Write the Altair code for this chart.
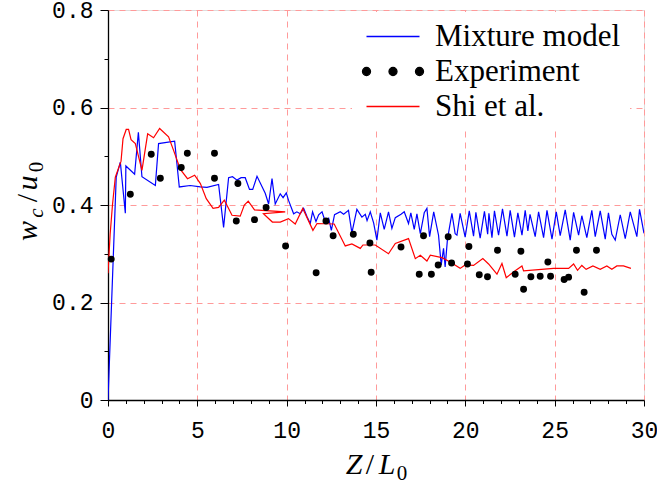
import altair as alt
import pandas as pd

# ---- data ----
mix_x = [0.0, 0.46, 0.69, 0.97, 1.0, 1.49, 1.7, 1.9, 2.65, 2.83, 3.73, 3.99, 4.6, 5.17, 5.54, 6.19,
         6.47, 6.75, 6.97, 7.22, 7.45, 7.68, 7.92, 8.1, 8.34, 8.8, 8.99, 9.18, 9.36, 9.64, 9.8, 9.98,
         10.1, 10.39, 10.57, 10.76, 10.95, 11.14, 11.32, 11.45, 11.64, 11.79, 11.98, 12.16, 12.35, 12.5,
         12.68, 13.0, 13.19, 13.46, 13.65, 13.93, 14.21, 14.4, 14.5, 14.68, 14.87, 15.05, 15.24, 15.46,
         15.7, 15.89, 16.08, 16.4, 16.58, 16.82, 16.95, 17.14, 17.29, 17.48, 17.7, 17.85, 18.0, 18.23,
         18.5, 18.65, 18.78, 18.87, 19.0, 19.25, 19.43,
         19.53, 19.71, 19.99, 20.22, 20.46, 20.59, 20.83, 21.07, 21.25, 21.32, 21.49, 21.63, 21.86,
         22.08, 22.33, 22.51, 22.75, 22.94, 23.17, 23.35, 23.5, 23.62, 23.91, 24.1, 24.38, 24.57,
         24.85, 25.09, 25.31, 25.59, 25.87, 26.06, 26.34, 26.52, 26.8, 27.08, 27.27, 27.55, 27.83,
         28.01, 28.2, 28.39, 28.67, 28.95, 29.23, 29.6, 29.75, 30.0]
mix_y = [0.0, 0.457, 0.488, 0.383, 0.48, 0.463, 0.549, 0.458, 0.44, 0.526, 0.531, 0.437, 0.44, 0.437,
         0.436, 0.442, 0.354, 0.456, 0.458, 0.451, 0.456, 0.456, 0.432, 0.432, 0.459, 0.424, 0.402,
         0.454, 0.402, 0.423, 0.415, 0.425, 0.41, 0.382, 0.386, 0.382, 0.393, 0.376, 0.362, 0.386,
         0.366, 0.38, 0.386, 0.366, 0.373, 0.348, 0.38, 0.386, 0.381, 0.389, 0.343, 0.391, 0.375,
         0.381, 0.368, 0.386, 0.363, 0.328, 0.384, 0.35, 0.386, 0.352, 0.374, 0.381, 0.386, 0.362,
         0.384, 0.35, 0.382, 0.341, 0.384, 0.393, 0.335, 0.386, 0.338, 0.277, 0.311, 0.273, 0.33,
         0.383, 0.341,
         0.338, 0.383, 0.334, 0.388, 0.336, 0.385, 0.332, 0.387, 0.34, 0.383, 0.333, 0.388, 0.338,
         0.392, 0.336, 0.389, 0.334, 0.384, 0.338, 0.389, 0.347, 0.381, 0.335, 0.386, 0.333, 0.389,
         0.33, 0.386, 0.337, 0.39, 0.328, 0.385, 0.338, 0.378, 0.333, 0.389, 0.335, 0.388, 0.33,
         0.384, 0.34, 0.328, 0.38, 0.331, 0.386, 0.335, 0.391, 0.342]

shi_x = [0.0, 0.12, 0.25, 0.41, 0.73, 0.84, 1.02, 1.15, 1.29, 1.53, 1.9, 2.22, 2.55, 2.89, 3.39, 3.67,
         4.05, 4.45, 4.85, 5.17, 5.5, 5.88, 6.19, 6.51, 6.75, 6.94, 7.4, 7.63, 7.85, 8.2, 9.92, 8.7,
         9.2, 9.64, 10.1, 10.48, 10.9, 11.47, 11.7, 12.66, 13.28, 13.65, 14.12, 14.27, 14.96, 15.7,
         16.08, 16.82, 17.2, 17.48, 17.85, 18.04, 18.69, 19.15, 19.71, 19.99, 20.46, 20.98, 21.3,
         21.77, 22.05, 22.29, 22.79, 23.17, 23.26, 24.94, 25.78, 26.06, 26.28, 26.52, 26.76, 27.14,
         27.55, 27.92, 28.2, 28.48, 28.85, 29.27]
shi_y = [0.26, 0.34, 0.40, 0.457, 0.49, 0.536, 0.555, 0.555, 0.534, 0.526, 0.471, 0.546, 0.538, 0.557,
         0.54, 0.512, 0.473, 0.454, 0.461, 0.444, 0.413, 0.393, 0.395, 0.41, 0.393, 0.379, 0.377,
         0.40, 0.408, 0.39, 0.386, 0.382, 0.365, 0.365, 0.372, 0.361, 0.393, 0.348, 0.362, 0.361,
         0.316, 0.32, 0.311, 0.318, 0.318, 0.30, 0.321, 0.331, 0.29, 0.297, 0.285, 0.297, 0.292,
         0.283, 0.27, 0.277, 0.276, 0.29, 0.279, 0.258, 0.28, 0.251, 0.265, 0.275, 0.265, 0.27, 0.27,
         0.279, 0.266, 0.276, 0.268, 0.275, 0.268, 0.275, 0.268, 0.275, 0.275, 0.27]

exp_x = [0.18, 1.25, 2.42, 2.93, 4.10, 4.44, 5.96, 5.96, 7.27, 7.18, 8.20, 8.85, 9.94, 11.65, 12.20,
         12.60, 13.73, 14.66, 14.73, 16.40, 17.42, 17.66, 18.10, 18.48, 19.04, 19.23, 20.12, 20.20,
         20.78, 21.24, 21.80, 22.79, 23.11, 23.26, 23.67, 24.19, 24.62, 24.77, 25.53, 25.78, 26.22,
         26.65, 27.34]
exp_y = [0.289, 0.422, 0.504, 0.455, 0.477, 0.506, 0.506, 0.455, 0.444, 0.367, 0.370, 0.395, 0.316,
         0.261, 0.367, 0.337, 0.340, 0.322, 0.262, 0.314, 0.258, 0.337, 0.258, 0.277, 0.335, 0.281,
         0.279, 0.315, 0.257, 0.253, 0.307, 0.258, 0.305, 0.227, 0.253, 0.254, 0.283, 0.254, 0.247,
         0.252, 0.307, 0.221, 0.307]

series_names = ["Mixture model", "Experiment", "Shi et al."]
series_colors = ["#0000ff", "#000000", "#ff0000"]
x_ticks = [0, 1, 2, 3, 4, 5, 6, 7, 8, 9, 10, 11, 12, 13, 14, 15, 16, 17, 18, 19, 20,
           21, 22, 23, 24, 25, 26, 27, 28, 29, 30]
y_ticks = [0, 0.1, 0.2, 0.3, 0.4, 0.5, 0.6, 0.7, 0.8]

lines_df = pd.concat([
    pd.DataFrame({"x": mix_x, "y": mix_y, "series": "Mixture model", "idx": range(len(mix_x))}),
    pd.DataFrame({"x": shi_x, "y": shi_y, "series": "Shi et al.", "idx": range(len(shi_x))}),
])
exp_df = pd.DataFrame({"x": exp_x, "y": exp_y, "series": "Experiment"})

# legend symbols: unit r = sqrt(size)/2 = 10 px; line spans -1 .. 4.3 (53 px)
def circ(cx, r):
    return (f"M{cx + r},0A{r},{r},0,1,0,{cx - r},0A{r},{r},0,1,0,{cx + r},0Z")

dots_path = circ(-1, 0.4) + circ(1.65, 0.4) + circ(4.3, 0.4)
line_path = "M-1,0L4.3,0"
is_exp = "datum.value === 'Experiment'"

legend = alt.Legend(
    title=None, orient="none", legendX=244, legendY=2, fillColor="white", padding=9,
    labelFont="Liberation Serif", labelFontSize=31, labelColor="black", labelOffset=43,
    rowPadding=3, symbolSize=400, symbolStrokeWidth=1.3, labelLimit=400, symbolOpacity=1,
    symbolType={"expr": f"{is_exp} ? '{dots_path}' : '{line_path}'"},
    symbolFillColor={"expr": f"{is_exp} ? '#000000' : 'transparent'"},
    symbolStrokeColor={"expr": f"{is_exp} ? 'transparent' : (datum.value === 'Shi et al.' ? '#ff0000' : '#0000ff')"},
)

color = alt.Color("series:N", scale=alt.Scale(domain=series_names, range=series_colors), legend=legend)

major_x = "datum.value % 5 === 0"
major_y = "round(datum.value * 10) % 2 === 0"

x_axis = alt.Axis(
    values=x_ticks, title=None, labelExpr=f"{major_x} ? datum.label : ''",
    labelFont="Liberation Mono", labelFontSize=23, labelColor="black", labelPadding=13,
    labelOverlap=False, labelFlush=False,
    tickColor="black", tickSize={"condition": {"test": major_x, "value": 6}, "value": 3.5},
    tickWidth=1, domainColor="black", domainWidth=1.3,
    grid=True, gridColor="#ff9a9a", gridDash=[6, 5], gridWidth=1,
    gridOpacity={"condition": {"test": major_x, "value": 1}, "value": 0},
)
y_axis = alt.Axis(
    values=y_ticks, title=None,
    labelExpr=f"{major_y} ? (datum.value === 0 ? '0' : format(datum.value, '.1f')) : ''",
    labelFont="Liberation Mono", labelFontSize=23, labelColor="black", labelPadding=7,
    labelOverlap=False, labelFlush=False,
    tickColor="black", tickSize={"condition": {"test": major_y, "value": 8}, "value": 4},
    tickWidth=1, domainColor="black", domainWidth=1.3,
    grid=True, gridColor="#ff9a9a", gridDash=[6, 5], gridWidth=1,
    gridOpacity={"condition": {"test": major_y, "value": 1}, "value": 0},
)

xs = alt.Scale(domain=[0, 30], nice=False, zero=False)
ys = alt.Scale(domain=[0, 0.8], nice=False, zero=False)

lines = alt.Chart(lines_df).mark_line(strokeWidth=1.2, clip=True).encode(
    x=alt.X("x:Q", scale=xs, axis=x_axis),
    y=alt.Y("y:Q", scale=ys, axis=y_axis),
    color=color,
    detail="series:N",
    order="idx:Q",
)
points = alt.Chart(exp_df).mark_circle(size=48, opacity=1).encode(
    x=alt.X("x:Q", scale=xs, axis=x_axis),
    y=alt.Y("y:Q", scale=ys, axis=y_axis),
    color=color,
)

one = pd.DataFrame({"k": [0]})


def piece(txt, px, py, size, angle=0, italic=True, align="center"):
    props = dict(font="Liberation Serif", fontSize=size, color="black", align=align,
                 baseline="alphabetic")
    if italic:
        props["fontStyle"] = "italic"
    if angle:
        props["angle"] = angle
    return alt.Chart(one).mark_text(**props).encode(
        x=alt.value(px), y=alt.value(py), text=alt.value(txt))


# plot origin is at (108, 10) in the page
titles = [
    # y title w_c/u_0, rotated
    piece("w", 37 - 108, 231 - 10, 30, 270),
    piece("c", 43 - 108, 213 - 10, 21, 270),
    piece("/", 37 - 108, 198 - 10, 30, 270, italic=False),
    piece("u", 37 - 108, 183 - 10, 30, 270),
    piece("0", 43 - 108, 167 - 10, 21, 270, italic=False),
    # x title Z/L_0
    piece("Z", 354 - 108, 474 - 10, 30),
    piece("/", 370 - 108, 474 - 10, 30, italic=False),
    piece("L", 387 - 108, 474 - 10, 30),
    piece("0", 402 - 108, 480 - 10, 21, italic=False),
]

chart = alt.layer(lines, points, *titles).properties(
    width=536, height=390,
    autosize=alt.AutoSizeParams(type="none"),
    padding={"left": 108, "top": 10, "right": 13, "bottom": 95},
).configure_view(stroke="black", strokeWidth=1.3).configure(background="white")

chart.save("out.html", embed_options={"renderer": "svg", "actions": False})
